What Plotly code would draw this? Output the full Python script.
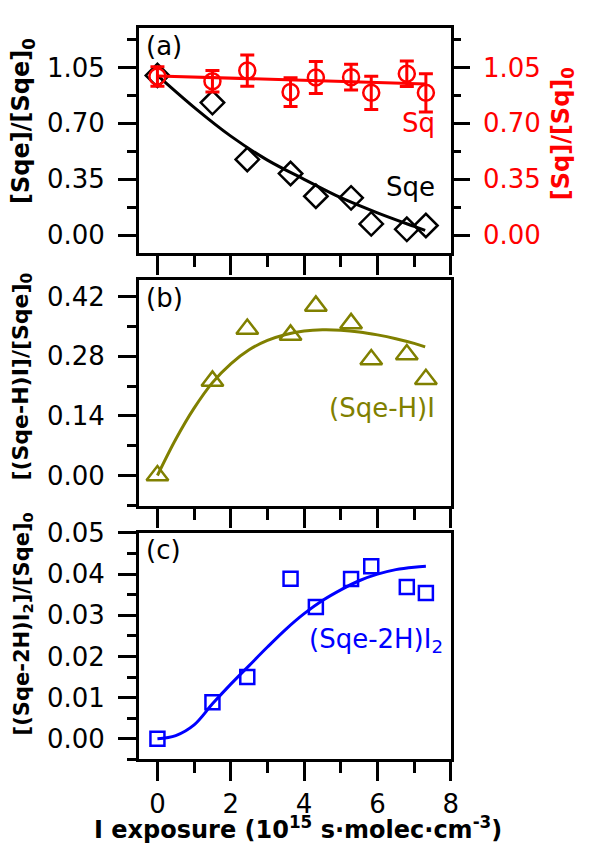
import plotly.graph_objects as go

# ---------------- data ----------------
exposure = [0, 1.5, 2.45, 3.63, 4.32, 5.28, 5.83, 6.8, 7.32]

sqe_ratio = [1.0, 0.83, 0.474, 0.386, 0.244, 0.234, 0.071, 0.037, 0.061]
sq_ratio = [0.993, 0.963, 1.03, 0.896, 0.987, 0.989, 0.891, 1.01, 0.891]
sq_err = [0.061, 0.067, 0.098, 0.09, 0.10, 0.081, 0.104, 0.08, 0.12]

sqeh_i = [0.0, 0.222, 0.344, 0.33, 0.398, 0.357, 0.272, 0.284, 0.226]
sqe2h_i2 = [0.0, 0.0089, 0.0150, 0.0389, 0.0320, 0.0388, 0.0419, 0.0369, 0.0354]

# fitted curves
sq_fit_x = [0, 7.32]
sq_fit_y = [0.997, 0.946]
sqe_fit_x = [0, 1, 2, 3, 4, 5, 6, 7, 7.3]
sqe_fit_y = [1.0, 0.80, 0.62, 0.47, 0.35, 0.235, 0.14, 0.055, 0.03]
sqeh_fit_x = [0, 0.5, 1, 1.5, 2, 2.5, 3, 3.5, 4, 4.5, 5, 5.5, 6, 6.5, 7, 7.3]
sqeh_fit_y = [0.0, 0.085, 0.158, 0.218, 0.262, 0.295, 0.317, 0.331, 0.339, 0.342,
              0.341, 0.337, 0.330, 0.321, 0.310, 0.302]
sqe2h_fit_x = [0, 0.5, 1, 1.5, 2, 2.5, 3, 3.5, 4, 4.5, 5, 5.5, 6, 6.5, 7, 7.32]
sqe2h_fit_y = [0.0, 0.0008, 0.0034, 0.0085, 0.0133, 0.0178, 0.0223, 0.0266, 0.0304,
               0.0336, 0.0362, 0.0384, 0.0400, 0.0411, 0.0417, 0.0419]

x_ticks = [0, 2, 4, 6, 8]
ya_ticks = [0.0, 0.35, 0.70, 1.05]
yb_ticks = [0.0, 0.14, 0.28, 0.42]
yc_ticks = [0.0, 0.01, 0.02, 0.03, 0.04, 0.05]

# ---------------- styling ----------------
FONT = "DejaVu Sans"
RED = "#FF0000"
OLIVE = "#808000"
BLUE = "#0000FF"
W, H = 592, 846

def px_x(p):
    return p / W

def px_y(p):
    return 1 - p / H

x_dom = [px_x(141), px_x(457)]

fig = go.Figure()

# panel a
fig.add_trace(go.Scatter(x=sqe_fit_x, y=sqe_fit_y, mode="lines", line=dict(color="black", width=3, shape="spline"),
                         xaxis="x", yaxis="y", showlegend=False))
fig.add_trace(go.Scatter(x=exposure, y=sqe_ratio, mode="markers",
                         marker=dict(symbol="diamond-open", size=18, color="black", line=dict(width=2.5)),
                         xaxis="x", yaxis="y", showlegend=False))
fig.add_trace(go.Scatter(x=sq_fit_x, y=sq_fit_y, mode="lines", line=dict(color=RED, width=3),
                         xaxis="x", yaxis="y2", showlegend=False))
fig.add_trace(go.Scatter(x=exposure, y=sq_ratio, mode="markers",
                         marker=dict(symbol="circle-open", size=16, color=RED, line=dict(width=2.5)),
                         error_y=dict(type="data", array=sq_err, color=RED, thickness=3, width=7),
                         xaxis="x", yaxis="y2", showlegend=False))

# panel b
fig.add_trace(go.Scatter(x=sqeh_fit_x, y=sqeh_fit_y, mode="lines", line=dict(color=OLIVE, width=3, shape="spline"),
                         xaxis="x2", yaxis="y3", showlegend=False))
fig.add_trace(go.Scatter(x=exposure, y=sqeh_i, mode="markers",
                         marker=dict(symbol="triangle-up-open", size=19, color=OLIVE, line=dict(width=2.5)),
                         xaxis="x2", yaxis="y3", showlegend=False))

# panel c
fig.add_trace(go.Scatter(x=sqe2h_fit_x, y=sqe2h_fit_y, mode="lines", line=dict(color=BLUE, width=3, shape="spline"),
                         xaxis="x3", yaxis="y4", showlegend=False))
fig.add_trace(go.Scatter(x=exposure, y=sqe2h_i2, mode="markers",
                         marker=dict(symbol="square-open", size=14, color=BLUE, line=dict(width=2.5)),
                         xaxis="x3", yaxis="y4", showlegend=False))

tickfont = dict(family=FONT, size=26, color="black")

def xaxis(anchor, labels):
    return dict(domain=x_dom, anchor=anchor, range=[-0.5, 8], tickvals=x_ticks,
                showticklabels=labels, tickfont=tickfont, ticklabelstandoff=0,
                showline=True, linecolor="black", linewidth=3, mirror=True,
                ticks="outside", ticklen=19, tickwidth=3, tickcolor="black",
                minor=dict(ticks="outside", ticklen=11, tickwidth=3, tickcolor="black", dtick=1, tick0=0),
                showgrid=False, zeroline=False)

def yaxis(dom, rng, ticks, minor_dtick, anchor="x"):
    return dict(domain=dom, anchor=anchor, range=rng, tickvals=ticks, tickformat=".2f",
                tickfont=tickfont, ticklabelstandoff=8,
                showline=True, linecolor="black", linewidth=3, mirror=True,
                ticks="outside", ticklen=18, tickwidth=3, tickcolor="black",
                minor=dict(ticks="outside", ticklen=9, tickwidth=3, tickcolor="black", dtick=minor_dtick, tick0=0),
                showgrid=False, zeroline=False)

ya_range = [-0.114, 1.298]
fig.update_layout(
    width=W, height=H, autosize=False,
    margin=dict(l=0, r=0, t=0, b=0),
    paper_bgcolor="white", plot_bgcolor="white",
    xaxis=xaxis("y", False),
    yaxis=yaxis([px_y(243.5), px_y(14)], ya_range, ya_ticks, 0.175),
    yaxis2=dict(overlaying="y", side="right", anchor="x", range=ya_range, tickvals=ya_ticks, tickformat=".2f",
                tickfont=dict(family=FONT, size=26, color=RED), ticklabelstandoff=8,
                showline=False, ticks="outside", ticklen=18, tickwidth=3, tickcolor="black",
                minor=dict(ticks="outside", ticklen=9, tickwidth=3, tickcolor="black", dtick=0.175, tick0=0),
                showgrid=False, zeroline=False),
    xaxis2=xaxis("y3", False),
    yaxis3=yaxis([px_y(500), px_y(270.5)], [-0.071, 0.4588], yb_ticks, 0.07, anchor="x2"),
    xaxis3=xaxis("y4", True),
    yaxis4=yaxis([px_y(758), px_y(527.3)], [-0.005, 0.0501], yc_ticks, 0.005, anchor="x3"),
)

title_font = dict(family=FONT, size=24, color="black")

annotations = [
    # y-axis titles
    dict(text="<b>[Sqe]/[Sqe]<sub>0</sub></b>", xref="paper", yref="paper", x=px_x(23), y=px_y(109),
         textangle=-90, showarrow=False, font=title_font, xanchor="center", yanchor="middle"),
    dict(text="<b>[Sq]/[Sq]<sub>0</sub></b>", xref="paper", yref="paper", x=px_x(571), y=px_y(122),
         textangle=-90, showarrow=False, font=dict(family=FONT, size=24, color=RED), xanchor="center", yanchor="middle"),
    dict(text="<b>[(Sqe-H)I]/[Sqe]<sub>0</sub></b>", xref="paper", yref="paper", x=px_x(23), y=px_y(369),
         textangle=-90, showarrow=False, font=dict(family=FONT, size=22, color="black"),
         xanchor="center", yanchor="middle"),
    dict(text="<b>[(Sqe-2H)I<sub>2</sub>]/[Sqe]<sub>0</sub></b>", xref="paper", yref="paper", x=px_x(23), y=px_y(620),
         textangle=-90, showarrow=False, font=dict(family=FONT, size=21, color="black"),
         xanchor="center", yanchor="middle"),
    # x-axis title
    dict(text="<b>I exposure (10<sup>15</sup> s·molec·cm<sup>-3</sup>)</b>", xref="paper", yref="paper",
         x=px_x(302), y=0, showarrow=False, font=title_font, xanchor="center", yanchor="bottom"),
    # panel labels
    dict(text="(a)", xref="paper", yref="paper", x=px_x(146), y=px_y(33), showarrow=False,
         font=dict(family=FONT, size=26, color="black"), xanchor="left", yanchor="middle"),
    dict(text="(b)", xref="paper", yref="paper", x=px_x(146), y=px_y(289), showarrow=False,
         font=dict(family=FONT, size=26, color="black"), xanchor="left", yanchor="middle"),
    dict(text="(c)", xref="paper", yref="paper", x=px_x(146), y=px_y(545), showarrow=False,
         font=dict(family=FONT, size=26, color="black"), xanchor="left", yanchor="middle"),
    # series labels
    dict(text="Sqe", xref="x", yref="y", x=7.61, y=0.30, showarrow=False,
         font=dict(family=FONT, size=26, color="black"), xanchor="right", yanchor="middle"),
    dict(text="Sq", xref="x", yref="y", x=7.61, y=0.70, showarrow=False,
         font=dict(family=FONT, size=26, color=RED), xanchor="right", yanchor="middle"),
    dict(text="(Sqe-H)I", xref="x2", yref="y3", x=7.61, y=0.158, showarrow=False,
         font=dict(family=FONT, size=26, color=OLIVE), xanchor="right", yanchor="middle"),
    dict(text="(Sqe-2H)I<sub>2</sub>", xref="x3", yref="y4", x=7.85, y=0.0240, showarrow=False,
         font=dict(family=FONT, size=26, color=BLUE), xanchor="right", yanchor="middle"),
]
fig.update_layout(annotations=annotations)

fig.write_html("out.html")
